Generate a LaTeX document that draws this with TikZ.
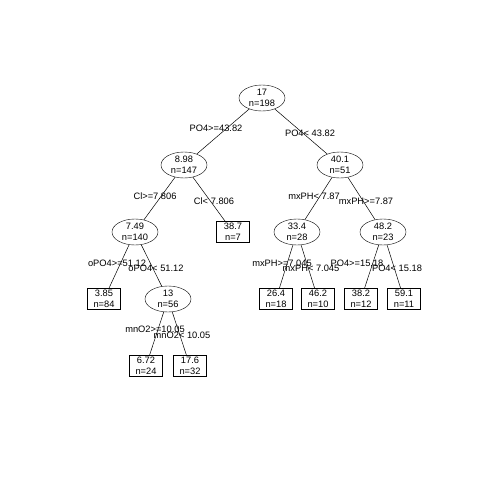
\documentclass[tikz,border=0pt]{standalone}
\usepackage{fontspec}
\setmainfont{Liberation Sans}
\usetikzlibrary{shapes.geometric}
\begin{document}
\begin{tikzpicture}[x=1pt,y=-1pt,
  every node/.style={font=\fontsize{9.3}{11}\selectfont},
  inner/.style={draw,ellipse,inner sep=0pt,minimum width=46pt,minimum height=26pt,align=center,fill=white},
  leaf/.style={draw,rectangle,inner sep=0pt,minimum width=33pt,minimum height=21pt,align=center,fill=white},
  split/.style={inner sep=0pt},
  edge/.style={line width=0.5pt}]
\useasboundingbox (0,0) rectangle (480,480);
% nodes
\node[inner] (r) at (262,98) {17\\n=198};
\node[inner] (a) at (184,165) {8.98\\n=147};
\node[inner] (b) at (340,165) {40.1\\n=51};
\node[inner] (c) at (135,232) {7.49\\n=140};
\node[leaf]  (d) at (233,232) {38.7\\n=7};
\node[inner] (e) at (297,232) {33.4\\n=28};
\node[inner] (f) at (383,232) {48.2\\n=23};
\node[leaf]  (g) at (104,299) {3.85\\n=84};
\node[inner] (h) at (168,299) {13\\n=56};
\node[leaf]  (i) at (276,299) {26.4\\n=18};
\node[leaf]  (j) at (318,299) {46.2\\n=10};
\node[leaf]  (k) at (361,299) {38.2\\n=12};
\node[leaf]  (l) at (404,299) {59.1\\n=11};
\node[leaf]  (m) at (146,366) {6.72\\n=24};
\node[leaf]  (n) at (190,366) {17.6\\n=32};
% edges
\draw[edge] (r) -- (a);
\draw[edge] (r) -- (b);
\draw[edge] (a) -- (c);
\draw[edge] (a) -- (d);
\draw[edge] (b) -- (e);
\draw[edge] (b) -- (f);
\draw[edge] (c) -- (g);
\draw[edge] (c) -- (h);
\draw[edge] (e) -- (i);
\draw[edge] (e) -- (j);
\draw[edge] (f) -- (k);
\draw[edge] (f) -- (l);
\draw[edge] (h) -- (m);
\draw[edge] (h) -- (n);
% split labels
\node[split] (s1) at (216,128) {PO4>=43.82};
\node[split] (s2) at (310,133) {PO4< 43.82};
\node[split] (s3) at (155,196) {Cl>=7.806};
\node[split] (s4) at (214,201) {Cl< 7.806};
\node[split] (s5) at (314,196) {mxPH< 7.87};
\node[split] (s6) at (366,201) {mxPH>=7.87};
\node[split] (s7) at (117,263) {oPO4>=51.12};
\node[split] (s8) at (156,268) {oPO4< 51.12};
\node[split] (s9) at (282,263) {mxPH>=7.045};
\node[split] (s10) at (311,268) {mxPH< 7.045};
\node[split] (s11) at (357,263) {PO4>=15.18};
\node[split] (s12) at (397,268) {PO4< 15.18};
\node[split] (s13) at (155,329) {mnO2>=10.05};
\node[split] (s14) at (182,335) {mnO2< 10.05};
\end{tikzpicture}
\end{document}
